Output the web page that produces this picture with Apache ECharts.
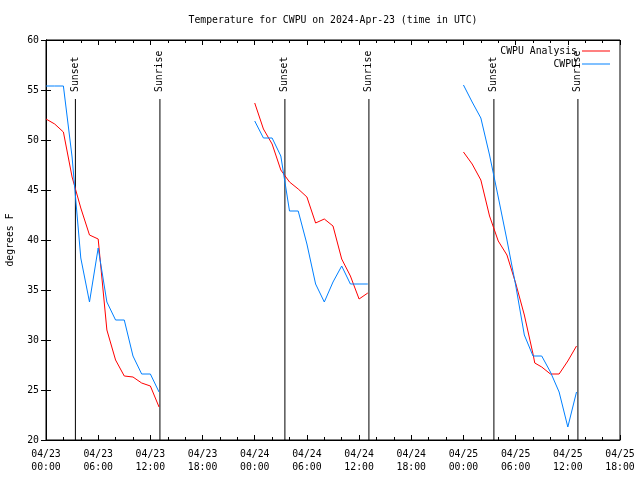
<!DOCTYPE html>
<html>
<head>
<meta charset="utf-8">
<script src="https://cdn.jsdelivr.net/npm/echarts@6/dist/echarts.min.js"></script>
<style>html,body{margin:0;padding:0;background:#fff;}#chart{width:640px;height:480px;}</style>
</head>
<body>
<div id="chart"></div>
<script>
// Hours since 2024-04-23 00:00 UTC; null marks a gap between daily segments
const analysisHours = [0,1,2,3,4,5,6,7,8,9,10,11,12,13, 13.5,
  24,25,26,27,28,29,30,31,32,33,34,35,36,37, 37.5,
  48,49,50,51,52,53,54,55,56,56.2,57,58,59,60,61];
const analysisTemps = [52.1,51.6,50.8,46.3,43.2,40.5,40.1,31.0,28.0,26.4,26.3,25.7,25.4,23.3, null,
  53.7,51.1,49.6,47.0,45.8,45.1,44.3,41.7,42.1,41.4,38.1,36.4,34.1,34.7, null,
  48.8,47.6,46.0,42.4,39.9,38.5,35.7,32.5,28.6,27.7,27.3,26.6,26.6,27.9,29.4];

const obsHours = [0,1,2,3,4,5,6,7,8,9,10,11,12,13, 13.5,
  24,25,26,27,28,29,30,31,32,33,34,35,36,37, 37.5,
  48,49,50,51,52,53,54,55,56,57,58,59,60,61];
const obsTemps = [55.4,55.4,55.4,48.3,38.2,33.8,39.2,33.8,32.0,32.0,28.4,26.6,26.6,24.8, null,
  51.9,50.2,50.2,48.4,42.9,42.9,39.6,35.6,33.8,35.8,37.4,35.6,35.6,35.6, null,
  55.5,53.8,52.2,48.5,44.3,40.0,35.5,30.5,28.4,28.4,26.8,24.8,21.3,24.8];

const sunEventHours = [3.38, 13.1, 27.47, 37.13, 51.5, 61.16];
const sunEventNames = ['Sunset','Sunrise','Sunset','Sunrise','Sunset','Sunrise'];

const xTickLabels = ['04/23\n00:00','04/23\n06:00','04/23\n12:00','04/23\n18:00',
  '04/24\n00:00','04/24\n06:00','04/24\n12:00','04/24\n18:00',
  '04/25\n00:00','04/25\n06:00','04/25\n12:00','04/25\n18:00'];

const seriesNames = ['CWPU Analysis', 'CWPU'];
const FONT = '"DejaVu Sans Mono", "Liberation Mono", monospace';
const FS = 9.8;

function pairs(xs, ys) {
  return xs.map((x, i) => [x, ys[i] === null ? '-' : ys[i]]);
}

const chart = echarts.init(document.getElementById('chart'), null, {renderer: 'canvas'});

const axisCommonX = {
  type: 'value', min: 0, max: 66, interval: 6,
  axisLine: {show: true, lineStyle: {color: '#000', width: 1}},
  axisTick: {show: true, inside: true, length: 5, lineStyle: {color: '#000'}},
  minorTick: {show: true, splitNumber: 3, length: 3, lineStyle: {color: '#000'}},
  splitLine: {show: false}, minorSplitLine: {show: false}
};
const axisCommonY = {
  type: 'value', min: 20, max: 60, interval: 5,
  axisLine: {show: true, lineStyle: {color: '#000', width: 1}},
  axisTick: {show: true, inside: true, length: 5, lineStyle: {color: '#000'}},
  splitLine: {show: false}
};

chart.setOption({
  animation: false,
  backgroundColor: '#fff',
  title: {
    text: 'Temperature for CWPU on 2024-Apr-23 (time in UTC)',
    left: 328, top: 10, textAlign: 'center',
    textStyle: {fontFamily: FONT, fontSize: FS, fontWeight: 'normal', color: '#000'}
  },
  legend: {
    data: seriesNames.map(n => ({name: n, icon: 'rect'})),
    orient: 'vertical', align: 'right',
    right: 25, top: 41,
    itemWidth: 28, itemHeight: 1, itemGap: 3,
    textStyle: {fontFamily: FONT, fontSize: FS, color: '#000', lineHeight: 10},
    selectedMode: false
  },
  grid: {left: 46, right: 20, top: 40, bottom: 40, show: true, borderColor: '#000', borderWidth: 1,
         containLabel: false, outerBoundsMode: 'none'},
  xAxis: [
    Object.assign({}, axisCommonX, {
      position: 'bottom',
      axisLabel: {
        color: '#000', fontFamily: FONT, fontSize: FS, margin: 8, lineHeight: 13,
        hideOverlap: false,
        formatter: v => xTickLabels[Math.round(v / 6)] || ''
      }
    }),
    Object.assign({}, axisCommonX, {position: 'top', axisLabel: {show: false}})
  ],
  yAxis: [
    Object.assign({}, axisCommonY, {
      position: 'left',
      name: 'degrees F', nameLocation: 'middle', nameGap: 31,
      nameTextStyle: {fontFamily: FONT, fontSize: FS, color: '#000'},
      axisLabel: {color: '#000', fontFamily: FONT, fontSize: FS, margin: 7}
    }),
    Object.assign({}, axisCommonY, {position: 'right', axisLabel: {show: false}})
  ],
  series: [
    {
      name: seriesNames[0], type: 'line', xAxisIndex: 0, yAxisIndex: 0,
      data: pairs(analysisHours, analysisTemps),
      symbol: 'none', showSymbol: false, connectNulls: false,
      color: '#ff0000', lineStyle: {color: '#ff0000', width: 1}, z: 3
    },
    {
      name: seriesNames[1], type: 'line', xAxisIndex: 0, yAxisIndex: 0,
      data: pairs(obsHours, obsTemps),
      symbol: 'none', showSymbol: false, connectNulls: false,
      color: '#0080ff', lineStyle: {color: '#0080ff', width: 1}, z: 3
    },
    {
      type: 'custom', xAxisIndex: 0, yAxisIndex: 0, z: 2, silent: true,
      data: sunEventHours.map(h => [h, 20]),
      renderItem: function (params, api) {
        const h = api.value(0);
        const base = api.coord([h, 20]);
        const top = api.coord([h, 54.1]);
        return {
          type: 'group',
          children: [
            {type: 'line', shape: {x1: base[0], y1: base[1], x2: top[0], y2: top[1]},
             style: {stroke: '#000', lineWidth: 1}},
            {type: 'text', x: top[0], y: top[1] - 7, rotation: Math.PI / 2,
             style: {text: sunEventNames[params.dataIndex], fill: '#000',
                     font: FS + 'px ' + FONT, align: 'left', verticalAlign: 'middle'}}
          ]
        };
      }
    }
  ]
});
</script>
</body>
</html>
